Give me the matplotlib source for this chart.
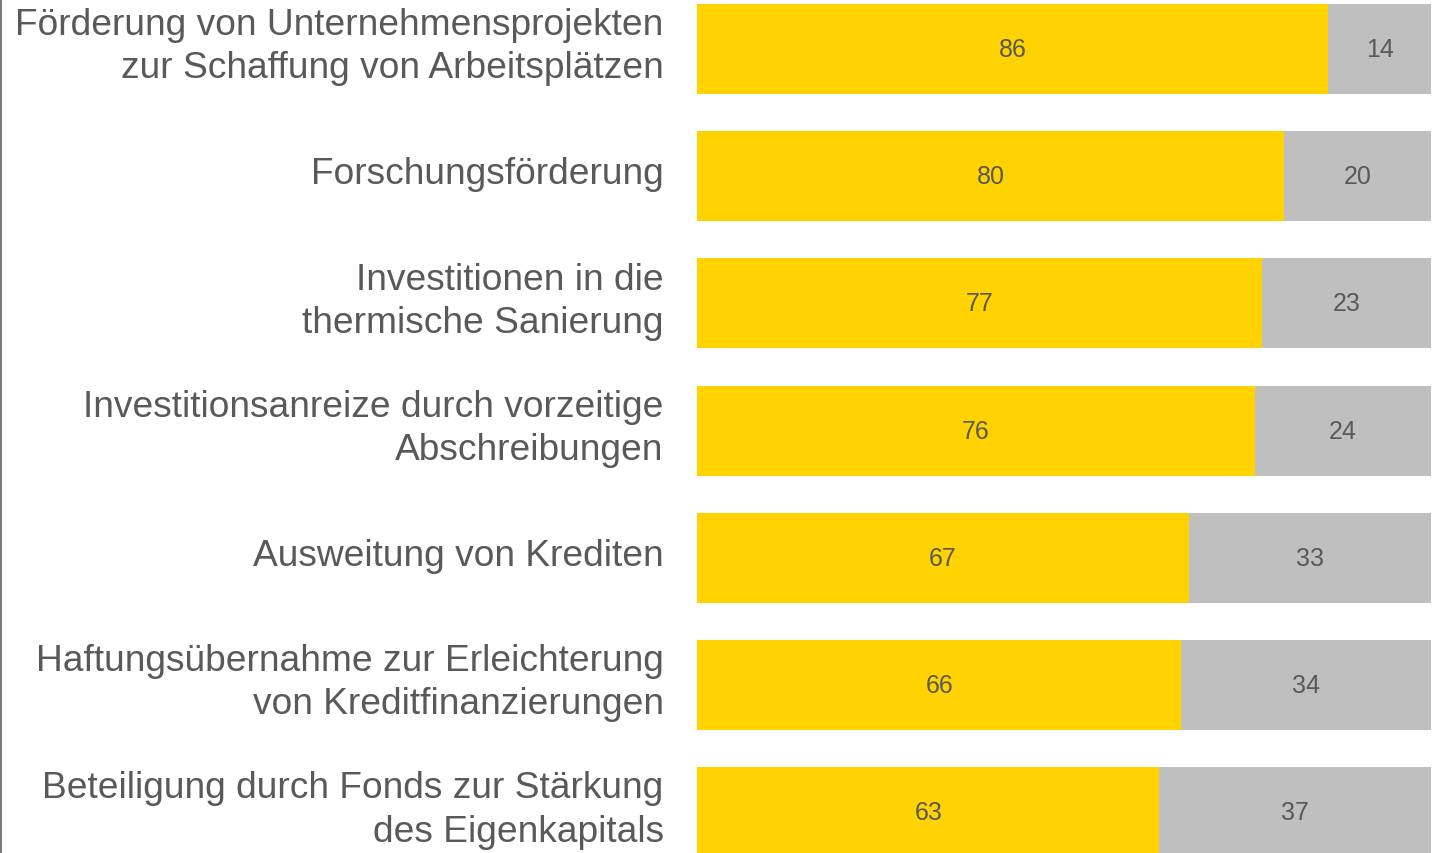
import matplotlib.pyplot as plt
from matplotlib.lines import Line2D

plt.rcParams['font.family'] = ['Liberation Sans', 'DejaVu Sans']

labels = [
    "Förderung von Unternehmensprojekten\nzur Schaffung von Arbeitsplätzen",
    "Forschungsförderung",
    "Investitionen in die\nthermische Sanierung",
    "Investitionsanreize durch vorzeitige\nAbschreibungen",
    "Ausweitung von Krediten",
    "Haftungsübernahme zur Erleichterung\nvon Kreditfinanzierungen",
    "Beteiligung durch Fonds zur Stärkung\ndes Eigenkapitals",
]
yes_vals = [86, 80, 77, 76, 67, 66, 63]
no_vals = [14, 20, 23, 24, 33, 34, 37]

yellow = '#FFD200'
grey = '#BFBFBF'
text_col = '#595959'

fig = plt.figure(figsize=(14.36, 8.54), dpi=100)
ax = fig.add_axes([697 / 1436, 0, 734 / 1436, 1])

y = range(len(labels))
ax.barh(y, yes_vals, height=0.707, color=yellow)
ax.barh(y, no_vals, left=yes_vals, height=0.707, color=grey)

for i, (a, b) in enumerate(zip(yes_vals, no_vals)):
    ax.text(a / 2, i, str(a), ha='center', va='center', fontsize=18, color=text_col)
    ax.text(a + b / 2, i, str(b), ha='center', va='center', fontsize=18, color=text_col)

# category labels, right aligned left of the bars
for i, lab in enumerate(labels):
    ax.annotate(lab, xy=(0, i), xytext=(-24, 2), textcoords='offset points',
                ha='right', va='center', fontsize=26.7, color=text_col,
                linespacing=1.3, annotation_clip=False)

ax.set_xlim(0, 100)
ax.set_ylim(6.32, -0.393)
ax.set_xticks([])
ax.set_yticks([])
for s in ax.spines.values():
    s.set_visible(False)

# thin frame line on the left edge
fig.add_artist(Line2D([0.0007, 0.0007], [0, 1], color='#606060', lw=1.2, transform=fig.transFigure))

fig.savefig('out.png', dpi=100)
